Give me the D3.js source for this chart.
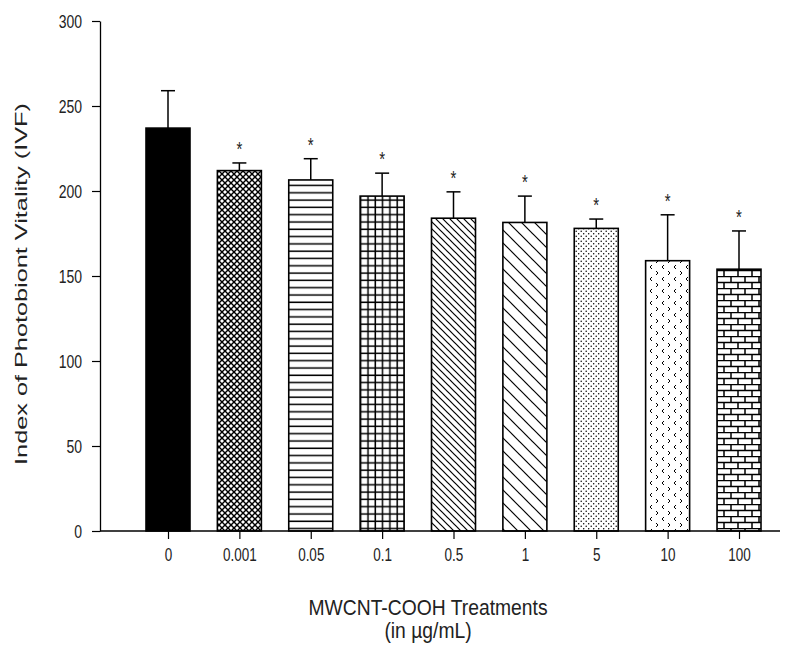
<!DOCTYPE html>
<html><head><meta charset="utf-8">
<script src="https://cdn.jsdelivr.net/npm/d3@7"></script>
<style>body{margin:0;background:#fff}svg{display:block}text{font-family:"Liberation Sans",Arial,sans-serif;fill:#222}</style>
</head><body>
<script>
const categories = ["0","0.001","0.05","0.1","0.5","1","5","10","100"];
const means = [237, 212, 206.5, 197, 184, 181.5, 178, 159, 154];
const errors = [22, 4.5, 12.5, 13.5, 15.5, 15.5, 5.5, 27, 22.5];
const significant = [false, true, true, true, true, true, true, true, true];
const patterns = ["solid","crosshatch","hlines","grid","diagDense","diagSparse","dots","chevrons","bricks"];
const yTicks = [0,50,100,150,200,250,300];

const W = 795, H = 648;
const SY = 1.3; // vertical stretch of the original figure's text
const svg = d3.select("body").append("svg").attr("width", W).attr("height", H);
const defs = svg.append("defs");

function pat(id, w, h, draw){
  const p = defs.append("pattern").attr("id", id).attr("patternUnits","userSpaceOnUse")
    .attr("width", w).attr("height", h);
  p.append("rect").attr("width", w).attr("height", h).attr("fill", "#fff");
  draw(p);
}
const ln = (p,x1,y1,x2,y2,sw)=>p.append("line").attr("x1",x1).attr("y1",y1).attr("x2",x2).attr("y2",y2).attr("stroke","#000").attr("stroke-width",sw||1.2);
pat("crosshatch", 6, 6, p=>{ ln(p,0,0,6,6,1.4); ln(p,6,0,0,6,1.4); ln(p,-3,3,3,-3,1.4); ln(p,3,9,9,3,1.4); ln(p,-3,3,3,9,1.4); ln(p,3,-3,9,3,1.4); });
pat("hlines", 10, 7.3, p=>{ ln(p,0,3,10,3,1.5); });
pat("grid", 7.3, 7.3, p=>{ ln(p,0,3,7.3,3,1.5); ln(p,3,0,3,7.3,1.5); });
pat("diagDense", 7, 7, p=>{ ln(p,0,0,7,7,1.2); ln(p,-3.5,3.5,3.5,10.5,1.2); ln(p,3.5,-3.5,10.5,3.5,1.2); });
pat("diagSparse", 13, 13, p=>{ ln(p,0,0,13,13,1.2); ln(p,-6.5,6.5,6.5,19.5,1.2); ln(p,6.5,-6.5,19.5,6.5,1.2); });
pat("dots", 5, 5, p=>{ p.append("circle").attr("cx",1.2).attr("cy",1.2).attr("r",0.75).attr("fill","#000"); p.append("circle").attr("cx",3.7).attr("cy",3.7).attr("r",0.75).attr("fill","#000"); });
pat("chevrons", 12, 12, p=>{
  p.append("path").attr("d","M4,1 L2,3 L4,5").attr("fill","none").attr("stroke","#000").attr("stroke-width",1);
  p.append("path").attr("d","M8,7 L10,9 L8,11").attr("fill","none").attr("stroke","#000").attr("stroke-width",1);
});
pat("bricks", 14, 12, p=>{ ln(p,0,0.5,14,0.5,1.5); ln(p,0,6.5,14,6.5,1.5); ln(p,3,0,3,6.5,1.5); ln(p,10,6.5,10,12,1.5); });

const y = d3.scaleLinear().domain([0,300]).range([531,21]);
const x = d3.scalePoint().domain(categories).range([168,739]);
const barW = 44;

// bars
const g = svg.append("g");
categories.forEach((c,i)=>{
  const fill = patterns[i]==="solid" ? "#000" : `url(#${patterns[i]})`;
  const cx = x(c);
  const top = y(means[i]+errors[i]);
  g.append("line").attr("x1",cx).attr("x2",cx).attr("y1",y(means[i])).attr("y2",top).attr("stroke","#000").attr("stroke-width",1.5);
  g.append("line").attr("x1",cx-7).attr("x2",cx+7).attr("y1",top).attr("y2",top).attr("stroke","#000").attr("stroke-width",1.5);
  g.append("rect").attr("x",cx-barW/2).attr("y",y(means[i])).attr("width",barW).attr("height",y(0)-y(means[i]))
    .attr("fill",fill).attr("stroke","#000").attr("stroke-width",1.6);
  if (significant[i]) {
    g.append("text").attr("transform",`translate(${cx},${top-7}) scale(1,${SY})`).attr("text-anchor","middle")
      .attr("font-size",15).attr("fill","#333").text("*");
  }
});

// y axis
const yAxis = svg.append("g").attr("transform","translate(100,0)")
  .call(d3.axisLeft(y).tickValues(yTicks).tickSize(8).tickPadding(10).tickSizeOuter(0));
yAxis.select(".domain").attr("stroke","#000").attr("stroke-width",1.3);
yAxis.selectAll(".tick line").attr("stroke","#000").attr("stroke-width",1.2);
yAxis.selectAll("text").attr("font-size",14).attr("font-family","Liberation Sans, Arial, sans-serif").attr("fill","#222")
  .attr("x",null).attr("dy",null).attr("transform",`translate(-18,${0.716*14*SY/2}) scale(1,${SY})`);

// x axis
const xAxis = svg.append("g").attr("transform","translate(0,531)")
  .call(d3.axisBottom(x).tickSize(8).tickSizeOuter(0));
xAxis.select(".domain").remove();
svg.append("line").attr("x1",100).attr("x2",780).attr("y1",531).attr("y2",531).attr("stroke","#000").attr("stroke-width",1.3);
xAxis.selectAll(".tick line").attr("stroke","#000").attr("stroke-width",1.2);
xAxis.selectAll("text").attr("font-size",13.5).attr("font-family","Liberation Sans, Arial, sans-serif").attr("fill","#222")
  .attr("y",null).attr("dy",null).attr("transform",`translate(0,30) scale(1,${SY})`);

// titles
svg.append("text").attr("transform",`translate(27,284) rotate(-90) scale(1.58,1)`).attr("text-anchor","middle")
  .attr("font-size",16).text("Index of Photobiont Vitality (IVF)");
svg.append("text").attr("transform",`translate(428,615) scale(1,1.12)`).attr("text-anchor","middle").attr("font-size",19.3).text("MWCNT-COOH Treatments");
svg.append("text").attr("transform",`translate(428,638) scale(1,1.12)`).attr("text-anchor","middle").attr("font-size",19.3).text("(in µg/mL)");
</script>
</body></html>
